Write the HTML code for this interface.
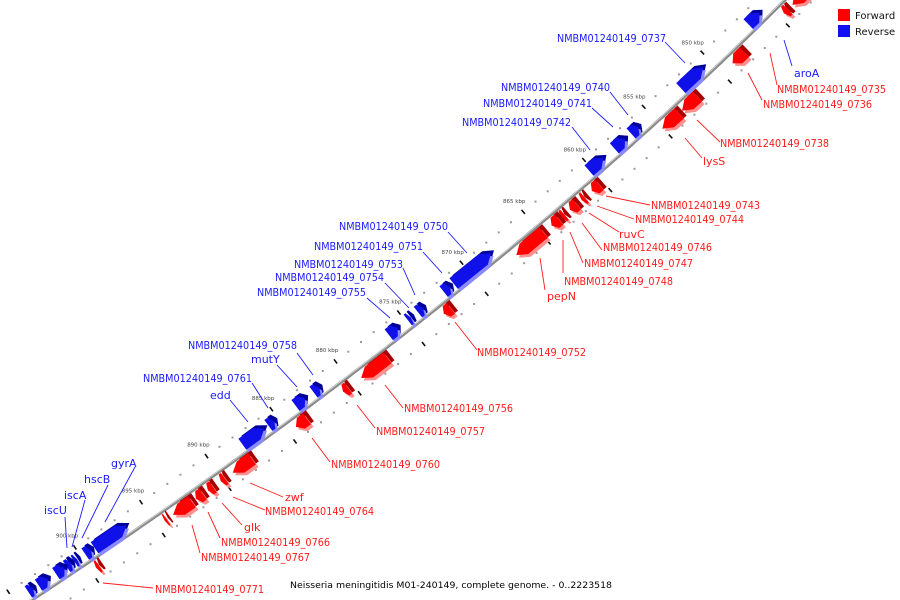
<!DOCTYPE html>
<html><head><meta charset="utf-8"><title>Genome map</title>
<style>
html,body{margin:0;padding:0;background:#fff;width:900px;height:600px;overflow:hidden;}
svg{display:block;font-family:"DejaVu Sans","Liberation Sans",sans-serif;overflow:hidden;}
</style></head>
<body>
<svg id="map" width="900" height="600" viewBox="0 0 900 600" xmlns="http://www.w3.org/2000/svg">
  <g id="rings"></g>
  <path id="axis" fill="none" stroke="#8a8a8a" stroke-width="3.2"/>
  <path id="axis-hi" fill="none" stroke="#d8d8d8" stroke-width="0.8"/>
  <g id="genes"></g>
  <g id="labels"></g>
  <g>
    <rect x="838" y="9" width="12" height="12" fill="#ff0000"/>
    <text x="855" y="19" font-size="10" fill="#111">Forward</text>
    <rect x="838" y="25" width="12" height="12" fill="#1010f0"/>
    <text x="855" y="35" font-size="10" fill="#111">Reverse</text>
  </g>
  <text x="290" y="588" font-size="9" fill="#000" textLength="322" lengthAdjust="spacingAndGlyphs">Neisseria meningitidis M01-240149, complete genome. - 0..2223518</text>
</svg>
<script>
// ---- data (kbp) ----
const geneNames = ["rev_top","NMBM01240149_0737","NMBM01240149_0740","NMBM01240149_0741","NMBM01240149_0742","NMBM01240149_0750","NMBM01240149_0751","NMBM01240149_0753","NMBM01240149_0754","NMBM01240149_0755","NMBM01240149_0758","mutY","NMBM01240149_0761","edd","gyrA","hscB","iscA","iscU","rev_a","rev_b","rev_c",
 "fwd_top","NMBM01240149_0735","NMBM01240149_0736","NMBM01240149_0738","lysS","NMBM01240149_0743","NMBM01240149_0744","NMBM01240149_0746","NMBM01240149_0747","NMBM01240149_0748","pepN","NMBM01240149_0752","NMBM01240149_0756","NMBM01240149_0757","NMBM01240149_0760","zwf","NMBM01240149_0764","glk","NMBM01240149_0766","NMBM01240149_0767","fwd_a","NMBM01240149_0771"];
const geneStarts = [845.7,850.6,856.1,857.2,859.0,868.2,871.5,873.65,874.6,875.65,881.8,882.9,885.3,886.05,896.6,899.26,900.3,900.74,901.25,902.5,903.6,
 842.6,844.3,848.1,852.1,853.65,860.3,861.5,862.15,863.15,863.6,864.85,872.3,877.3,880.38,883.57,887.8,889.88,890.79,891.55,892.38,894.3,899.4];
const geneEnds = [846.7,852.5,856.7,858.1,860.2,871.2,872.0,874.05,874.85,876.35,882.25,883.65,885.75,887.75,899.0,899.7,900.52,901.1,901.9,903.2,903.96,
 843.9,844.65,849.1,853.4,855.05,860.9,861.75,862.7,863.4,864.2,867.05,872.85,879.35,880.76,884.42,889.27,890.18,891.17,892.08,893.81,894.45,899.62];
const geneStrands = [-1,-1,-1,-1,-1,-1,-1,-1,-1,-1,-1,-1,-1,-1,-1,-1,-1,-1,-1,-1,-1,
 1,1,1,1,1,1,1,1,1,1,1,1,1,1,1,1,1,1,1,1,1,1];
const tickKbp = [850,855,860,865,870,875,880,885,890,895,900];
const tickLabels = ["850 kbp","855 kbp","860 kbp","865 kbp","870 kbp","875 kbp","880 kbp","885 kbp","890 kbp","895 kbp","900 kbp"];

// ---- label layout (text anchor and leader line) ----
const labelLayout = [
 ["NMBM01240149_0737","b",557,42,665,42,685,63],
 ["aroA","b",794,77,792,66,784,40],
 ["NMBM01240149_0740","b",501,91,610,92,628,115],
 ["NMBM01240149_0741","b",483,107,592,108,613,127],
 ["NMBM01240149_0742","b",462,126,572,127,590,150],
 ["NMBM01240149_0750","b",339,230,448,232,467,253],
 ["NMBM01240149_0751","b",314,250,423,252,442,273],
 ["NMBM01240149_0753","b",294,268,403,268,415,295],
 ["NMBM01240149_0754","b",275,281,385,283,409,308],
 ["NMBM01240149_0755","b",257,296,367,298,390,318],
 ["NMBM01240149_0758","b",188,349,297,353,313,375],
 ["mutY","b",251,363,277,365,297,387],
 ["NMBM01240149_0761","b",143,382,252,383,268,408],
 ["edd","b",210,399,230,400,248,422],
 ["gyrA","b",111,467,135,467,105,522],
 ["hscB","b",84,483,108,485,82,538],
 ["iscA","b",64,499,85,500,72,547],
 ["iscU","b",44,514,65,517,67,548],
 ["NMBM01240149_0735","r",777,93,777,85,770,53],
 ["NMBM01240149_0736","r",763,108,762,100,748,73],
 ["NMBM01240149_0738","r",720,147,720,142,697,120],
 ["lysS","r",703,165,702,158,685,138],
 ["NMBM01240149_0743","r",651,209,650,205,606,196],
 ["NMBM01240149_0744","r",635,223,634,219,597,206],
 ["ruvC","r",619,238,619,232,589,213],
 ["NMBM01240149_0746","r",603,251,602,250,582,223],
 ["NMBM01240149_0747","r",584,267,583,263,570,232],
 ["NMBM01240149_0748","r",564,285,563,273,563,240],
 ["pepN","r",547,300,545,290,540,258],
 ["NMBM01240149_0752","r",477,356,477,350,455,322],
 ["NMBM01240149_0756","r",404,412,403,408,385,385],
 ["NMBM01240149_0757","r",376,435,375,428,357,405],
 ["NMBM01240149_0760","r",331,468,330,462,312,438],
 ["zwf","r",285,501,283,497,250,483],
 ["NMBM01240149_0764","r",265,515,265,510,233,497],
 ["glk","r",244,531,242,525,222,503],
 ["NMBM01240149_0766","r",221,546,220,538,208,512],
 ["NMBM01240149_0767","r",201,561,200,553,192,525],
 ["NMBM01240149_0771","r",155,593,153,588,103,583]
];

// ---- geometry ----
const NS="http://www.w3.org/2000/svg";
const P0=[32,600],P1=[482,303],P2=[785,0];
function bz(t){const u=1-t;return [u*u*P0[0]+2*u*t*P1[0]+t*t*P2[0],u*u*P0[1]+2*u*t*P1[1]+t*t*P2[1]];}
function bzd(t){return [2*(1-t)*(P1[0]-P0[0])+2*t*(P2[0]-P1[0]),2*(1-t)*(P1[1]-P0[1])+2*t*(P2[1]-P1[1])];}
const LUT=[];{let s=0,prev=bz(-0.12);for(let i=0;i<=3000;i++){const t=-0.12+i*(1.3/3000);const p=bz(t);s+=Math.hypot(p[0]-prev[0],p[1]-prev[1]);prev=p;LUT.push([t,s,p]);}}
function nearestArc(x,y){let best=1e9,bs=0;for(const e of LUT){const d=Math.hypot(e[2][0]-x,e[2][1]-y);if(d<best){best=d;bs=e[1];}}return bs;}
const a900=nearestArc(87,565),a850=nearestArc(717,68);
function tOfArc(s){let lo=0,hi=LUT.length-1;while(hi-lo>1){const m=(lo+hi)>>1;if(LUT[m][1]<s)lo=m;else hi=m;}const A=LUT[lo],B=LUT[hi];const f=(s-A[1])/((B[1]-A[1])||1);return A[0]+(B[0]-A[0])*f;}
function P(kbp,d){const s=a900+(900-kbp)*(a850-a900)/50;const t=tOfArc(s);const p=bz(t),dv=bzd(t);const L=Math.hypot(dv[0],dv[1]);const n=[-dv[1]/L,dv[0]/L];return [p[0]+n[0]*d,p[1]+n[1]*d];}

// axis
(function(){let d="";for(let i=0;i<=200;i++){const p=P(840+i*(66/200),0);d+=(i?"L":"M")+p[0].toFixed(1)+","+p[1].toFixed(1);}
document.getElementById('axis').setAttribute('d',d);
let d2="";for(let i=0;i<=200;i++){const p=P(840+i*(66/200),-0.9);d2+=(i?"L":"M")+p[0].toFixed(1)+","+p[1].toFixed(1);}
document.getElementById('axis-hi').setAttribute('d',d2);})();

// rings: dots + ticks
(function(){const g=document.getElementById('rings');
for(let k=838;k<=907;k++){ if(k%5===0) continue;
  for(const side of [-20,20]){const p=P(k,side);const c=document.createElementNS(NS,'rect');
  
  
  c.setAttribute('x',(p[0]-1).toFixed(1));c.setAttribute('y',(p[1]-1).toFixed(1));c.setAttribute('width','2');c.setAttribute('height','2');c.setAttribute('fill','#9a9a9a');g.appendChild(c);}}
for(let k=835;k<=910;k+=5){ for(const side of [-20,20]){const a=P(k,side-2.6),b=P(k,side+2.6);const l=document.createElementNS(NS,'line');
  
  
  l.setAttribute('x1',a[0]);l.setAttribute('y1',a[1]);l.setAttribute('x2',b[0]);l.setAttribute('y2',b[1]);l.setAttribute('stroke','#111');l.setAttribute('stroke-width','1.6');g.appendChild(l);}}
tickKbp.forEach((k,i)=>{const p=P(k,-34);const t=document.createElementNS(NS,'text');
  
  
  t.setAttribute('x',p[0].toFixed(1));t.setAttribute('y',(p[1]+2).toFixed(1));t.setAttribute('font-size','5.5');t.setAttribute('fill','#444');t.setAttribute('text-anchor','middle');t.textContent=tickLabels[i];g.appendChild(t);});
})();

// genes
(function(){const g=document.getElementById('genes');
function poly(pts,dx,dy,fill,name){const e=document.createElementNS(NS,'polygon');
  
  
  e.setAttribute('points',pts.map(p=>(p[0]+dx).toFixed(1)+","+(p[1]+dy).toFixed(1)).join(" "));e.setAttribute('fill',fill);return e;}
geneNames.forEach((nm,i)=>{const a=geneStarts[i],b=geneEnds[i],s=geneStrands[i];const len=b-a;const ah=Math.min(0.6,len*0.45);
  let pts;
  if(s>0){const d1=2,d2=15.5,m=(d1+d2)/2;pts=[P(a,d1),P(b-ah,d1),P(b,m),P(b-ah,d2),P(a,d2)];}
  else{const d1=-2,d2=-15.5,m=(d1+d2)/2;pts=[P(b,d1),P(a+ah,d1),P(a,m),P(a+ah,d2),P(b,d2)];}
  const grp=document.createElementNS(NS,'g');
  
  
  const dark=s>0?"#a80000":"#00009a", light=s>0?"#ff8f8f":"#8a8aff", main=s>0?"#ff0000":"#1010e8";
  grp.appendChild(poly(pts,3,-3,dark,'gene-top-face'));
  grp.appendChild(poly(pts,2.6,2.6,light,'gene-shadow-face'));
  grp.appendChild(poly(pts,0,0,main,'gene-front-face'));
  g.appendChild(grp);});
})();

// labels
(function(){const g=document.getElementById('labels');
labelLayout.forEach(L=>{const [txt,st,tx,ty,x1,y1,x2,y2]=L;const col=st==="b"?"#1a1aff":"#ff1a1a";
  const ln=document.createElementNS(NS,'line');
  
  
  ln.setAttribute('x1',x1);ln.setAttribute('y1',y1);ln.setAttribute('x2',x2);ln.setAttribute('y2',y2);ln.setAttribute('stroke',col);ln.setAttribute('stroke-width','0.9');g.appendChild(ln);
  const t=document.createElementNS(NS,'text');
  
  
  t.setAttribute('x',tx);t.setAttribute('y',ty);t.setAttribute('font-size','11');t.setAttribute('fill',col);
  if(txt.length>10){t.setAttribute('textLength','109');t.setAttribute('lengthAdjust','spacingAndGlyphs');}
  t.textContent=txt;g.appendChild(t);});
})();
</script>
</body></html>
